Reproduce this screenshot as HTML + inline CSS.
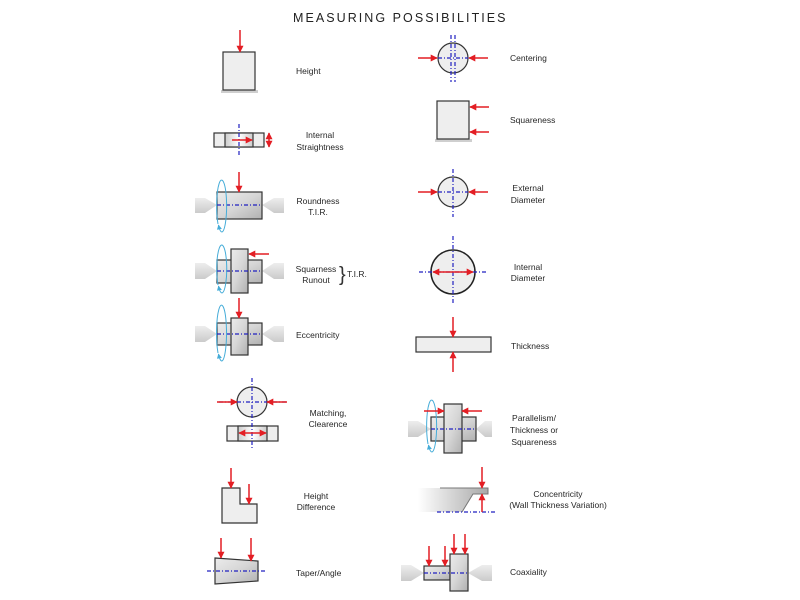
<!DOCTYPE html>
<html>
<head>
<meta charset="utf-8">
<style>
html,body{margin:0;padding:0;background:#fff;}
svg{display:block;}
text{font-family:"Liberation Sans",sans-serif;fill:#262626;}
.lb{font-size:8.5px;}
.o{stroke:#333;stroke-width:1.2;}
.bl{stroke:#2020c0;stroke-width:1.2;stroke-dasharray:4 2 1 2;fill:none;}
.r{stroke:#e31e24;stroke-width:1.5;fill:none;}
.el{stroke:#45acd8;stroke-width:1;fill:none;}
</style>
</head>
<body>
<svg width="800" height="600" viewBox="0 0 800 600" xmlns="http://www.w3.org/2000/svg">
<defs>
<marker id="ah" viewBox="0 0 10 10" refX="9" refY="5" markerWidth="7" markerHeight="7" markerUnits="userSpaceOnUse" orient="auto-start-reverse">
<path d="M0,0 L10,5 L0,10 z" fill="#e31e24"/>
</marker>
<marker id="bh" viewBox="0 0 10 10" refX="9" refY="5" markerWidth="5" markerHeight="5" markerUnits="userSpaceOnUse" orient="auto">
<path d="M0,0 L10,5 L0,10 z" fill="#45acd8"/>
</marker>
<linearGradient id="cyl" x1="0" y1="0" x2="1" y2="1">
<stop offset="0" stop-color="#ececec"/>
<stop offset="0.5" stop-color="#d6d6d6"/>
<stop offset="1" stop-color="#b0b0b0"/>
</linearGradient>
<linearGradient id="tail" x1="0" y1="0" x2="0" y2="1">
<stop offset="0" stop-color="#ededed"/>
<stop offset="1" stop-color="#cbcbcb"/>
</linearGradient>
<linearGradient id="hole" x1="0" y1="0" x2="1" y2="0">
<stop offset="0" stop-color="#cccccc"/>
<stop offset="0.5" stop-color="#ffffff"/>
<stop offset="1" stop-color="#cccccc"/>
</linearGradient>
<linearGradient id="conc" x1="0" y1="0" x2="1" y2="0">
<stop offset="0" stop-color="#ffffff"/>
<stop offset="1" stop-color="#a8a8a8"/>
</linearGradient>
</defs>

<!-- Title -->
<text x="293" y="22" style="font-size:12.5px;letter-spacing:2.05px;fill:#222">MEASURING POSSIBILITIES</text>

<!-- ===== LEFT COLUMN ===== -->
<!-- Height -->
<rect x="221" y="90" width="37" height="3" fill="#cfcfcf"/>
<rect x="223" y="52" width="32" height="38" fill="#eeeeee" class="o"/>
<line x1="240" y1="30" x2="240" y2="52" class="r" marker-end="url(#ah)"/>
<text x="296" y="74" class="lb">Height</text>

<!-- Internal Straightness -->
<rect x="214" y="133" width="50" height="14" fill="#eeeeee" class="o"/>
<rect x="225" y="133" width="28" height="14" fill="url(#hole)" class="o"/>
<line x1="239" y1="124" x2="239" y2="156" class="bl"/>
<line x1="232" y1="140" x2="252" y2="140" class="r" marker-end="url(#ah)"/>
<line x1="269" y1="133" x2="269" y2="147" class="r" marker-start="url(#ah)" marker-end="url(#ah)"/>
<text x="320" y="138" class="lb" text-anchor="middle">Internal</text>
<text x="320" y="150" class="lb" text-anchor="middle">Straightness</text>

<!-- Roundness -->
<polygon points="195,198 205,198 217,205 205,213 195,213" fill="url(#tail)"/>
<polygon points="284,198 274,198 262,205 274,213 284,213" fill="url(#tail)"/>
<rect x="217" y="192" width="45" height="27" fill="url(#cyl)" class="o"/>
<line x1="217" y1="205" x2="262" y2="205" class="bl"/>
<line x1="239" y1="172" x2="239" y2="192" class="r" marker-end="url(#ah)"/>
<path d="M218,224 A5,26 0 1 1 222,232" class="el" transform="translate(0,0)"/>
<path d="M222,232 A5,26 0 0 1 218.5,225" class="el" marker-end="url(#bh)"/>
<text x="318" y="204" class="lb" text-anchor="middle">Roundness</text>
<text x="318" y="215" class="lb" text-anchor="middle">T.I.R.</text>

<!-- Squarness Runout -->
<polygon points="195,263 205,263 217,271 205,279 195,279" fill="url(#tail)"/>
<polygon points="284,263 274,263 262,271 274,279 284,279" fill="url(#tail)"/>
<rect x="217" y="260" width="45" height="23" fill="url(#cyl)" class="o"/>
<rect x="231" y="249" width="17" height="44" fill="url(#cyl)" class="o"/>
<line x1="217" y1="271" x2="262" y2="271" class="bl"/>
<line x1="269" y1="254" x2="249" y2="254" class="r" marker-end="url(#ah)"/>
<path d="M218,285 A5,24 0 1 1 222,293" class="el"/>
<path d="M222,293 A5,24 0 0 1 218.5,286" class="el" marker-end="url(#bh)"/>
<text x="316" y="272" class="lb" text-anchor="middle">Squarness</text>
<text x="316" y="283" class="lb" text-anchor="middle">Runout</text>
<text x="339" y="281" style="font-size:20px;fill:#333">}</text>
<text x="347" y="277" class="lb">T.I.R.</text>

<!-- Eccentricity -->
<polygon points="195,326 205,326 217,334 205,342 195,342" fill="url(#tail)"/>
<polygon points="284,326 274,326 262,334 274,342 284,342" fill="url(#tail)"/>
<rect x="217" y="323" width="45" height="22" fill="url(#cyl)" class="o"/>
<rect x="231" y="318" width="17" height="37" fill="url(#cyl)" class="o"/>
<line x1="217" y1="334" x2="262" y2="334" class="bl"/>
<line x1="239" y1="298" x2="239" y2="318" class="r" marker-end="url(#ah)"/>
<path d="M218,353 A5,28 0 1 1 222,361" class="el"/>
<path d="M222,361 A5,28 0 0 1 218.5,354" class="el" marker-end="url(#bh)"/>
<text x="296" y="338" class="lb">Eccentricity</text>

<!-- Matching, Clearence -->
<circle cx="252" cy="402" r="15" fill="#eeeeee" class="o"/>
<rect x="227" y="426" width="51" height="15" fill="#eeeeee" class="o"/>
<rect x="238" y="426" width="29" height="15" fill="url(#hole)" class="o"/>
<line x1="252" y1="378" x2="252" y2="450" class="bl"/>
<line x1="219" y1="402" x2="286" y2="402" class="bl"/>
<line x1="217" y1="402" x2="237" y2="402" class="r" marker-end="url(#ah)"/>
<line x1="287" y1="402" x2="267" y2="402" class="r" marker-end="url(#ah)"/>
<line x1="239" y1="433" x2="266" y2="433" class="r" marker-start="url(#ah)" marker-end="url(#ah)"/>
<text x="328" y="416" class="lb" text-anchor="middle">Matching,</text>
<text x="328" y="427" class="lb" text-anchor="middle">Clearence</text>

<!-- Height Difference -->
<polygon points="222,488 240,488 240,504 257,504 257,523 222,523" fill="#eeeeee" class="o"/>
<line x1="231" y1="468" x2="231" y2="488" class="r" marker-end="url(#ah)"/>
<line x1="249" y1="484" x2="249" y2="504" class="r" marker-end="url(#ah)"/>
<text x="316" y="499" class="lb" text-anchor="middle">Height</text>
<text x="316" y="510" class="lb" text-anchor="middle">Difference</text>

<!-- Taper/Angle -->
<polygon points="215,558 258,561 258,581 215,584" fill="url(#cyl)" class="o"/>
<line x1="207" y1="571" x2="266" y2="571" class="bl"/>
<line x1="221" y1="538" x2="221" y2="558" class="r" marker-end="url(#ah)"/>
<line x1="251" y1="538" x2="251" y2="561" class="r" marker-end="url(#ah)"/>
<text x="296" y="576" class="lb">Taper/Angle</text>

<!-- ===== RIGHT COLUMN ===== -->
<!-- Centering -->
<circle cx="453" cy="58" r="15" fill="#eeeeee" class="o"/>
<line x1="451" y1="35" x2="451" y2="82" class="bl"/>
<line x1="455" y1="35" x2="455" y2="82" class="bl"/>
<line x1="438" y1="58" x2="468" y2="58" class="bl"/>
<line x1="418" y1="58" x2="437" y2="58" class="r" marker-end="url(#ah)"/>
<line x1="488" y1="58" x2="469" y2="58" class="r" marker-end="url(#ah)"/>
<text x="510" y="61" class="lb">Centering</text>

<!-- Squareness -->
<rect x="435" y="139" width="37" height="3" fill="#cfcfcf"/>
<rect x="437" y="101" width="32" height="38" fill="#eeeeee" class="o"/>
<line x1="489" y1="107" x2="470" y2="107" class="r" marker-end="url(#ah)"/>
<line x1="489" y1="132" x2="470" y2="132" class="r" marker-end="url(#ah)"/>
<text x="510" y="123" class="lb">Squareness</text>

<!-- External Diameter -->
<circle cx="453" cy="192" r="15" fill="#eeeeee" class="o"/>
<line x1="453" y1="169" x2="453" y2="217" class="bl"/>
<line x1="438" y1="192" x2="468" y2="192" class="bl"/>
<line x1="418" y1="192" x2="437" y2="192" class="r" marker-end="url(#ah)"/>
<line x1="488" y1="192" x2="469" y2="192" class="r" marker-end="url(#ah)"/>
<text x="528" y="191" class="lb" text-anchor="middle">External</text>
<text x="528" y="203" class="lb" text-anchor="middle">Diameter</text>

<!-- Internal Diameter -->
<circle cx="453" cy="272" r="22" fill="#eeeeee" stroke="#222" stroke-width="1.5"/>
<line x1="453" y1="236" x2="453" y2="305" class="bl"/>
<line x1="419" y1="272" x2="487" y2="272" class="bl"/>
<line x1="433" y1="272" x2="473" y2="272" class="r" marker-start="url(#ah)" marker-end="url(#ah)"/>
<text x="528" y="270" class="lb" text-anchor="middle">Internal</text>
<text x="528" y="281" class="lb" text-anchor="middle">Diameter</text>

<!-- Thickness -->
<rect x="416" y="337" width="75" height="15" fill="#eeeeee" class="o"/>
<line x1="453" y1="317" x2="453" y2="337" class="r" marker-end="url(#ah)"/>
<line x1="453" y1="372" x2="453" y2="352" class="r" marker-end="url(#ah)"/>
<text x="511" y="349" class="lb">Thickness</text>

<!-- Parallelism -->
<polygon points="408,421 418,421 431,429 418,437 408,437" fill="url(#tail)"/>
<polygon points="492,421 485,421 476,429 485,437 492,437" fill="url(#tail)"/>
<rect x="431" y="417" width="45" height="24" fill="url(#cyl)" class="o"/>
<rect x="444" y="404" width="18" height="49" fill="url(#cyl)" class="o"/>
<line x1="431" y1="429" x2="476" y2="429" class="bl"/>
<path d="M428,444 A5,26 0 1 1 432,452" class="el"/>
<path d="M432,452 A5,26 0 0 1 428.5,445" class="el" marker-end="url(#bh)"/>
<line x1="424" y1="411" x2="444" y2="411" class="r" marker-end="url(#ah)"/>
<line x1="482" y1="411" x2="462" y2="411" class="r" marker-end="url(#ah)"/>
<text x="534" y="421" class="lb" text-anchor="middle">Parallelism/</text>
<text x="534" y="433" class="lb" text-anchor="middle">Thickness or</text>
<text x="534" y="445" class="lb" text-anchor="middle">Squareness</text>

<!-- Concentricity -->
<polygon points="418,488 488,488 488,494 473,494 462,512 418,512" fill="url(#conc)"/>
<polyline points="440,488 488,488 488,494 473,494 462,512" fill="none" stroke="#777" stroke-width="1"/>
<line x1="437" y1="512" x2="495" y2="512" class="bl"/>
<line x1="482" y1="467" x2="482" y2="488" class="r" marker-end="url(#ah)"/>
<line x1="482" y1="512" x2="482" y2="494" class="r" marker-end="url(#ah)"/>
<text x="558" y="497" class="lb" text-anchor="middle">Concentricity</text>
<text x="558" y="508" class="lb" text-anchor="middle">(Wall Thickness Variation)</text>

<!-- Coaxiality -->
<polygon points="401,565 411,565 424,573 411,581 401,581" fill="url(#tail)"/>
<polygon points="492,565 482,565 468,573 482,581 492,581" fill="url(#tail)"/>
<rect x="424" y="566" width="26" height="14" fill="url(#cyl)" class="o"/>
<rect x="450" y="554" width="18" height="37" fill="url(#cyl)" class="o"/>
<line x1="424" y1="573" x2="468" y2="573" class="bl"/>
<line x1="429" y1="546" x2="429" y2="566" class="r" marker-end="url(#ah)"/>
<line x1="445" y1="546" x2="445" y2="566" class="r" marker-end="url(#ah)"/>
<line x1="454" y1="534" x2="454" y2="554" class="r" marker-end="url(#ah)"/>
<line x1="465" y1="534" x2="465" y2="554" class="r" marker-end="url(#ah)"/>
<text x="510" y="575" class="lb">Coaxiality</text>
</svg>
</body>
</html>
